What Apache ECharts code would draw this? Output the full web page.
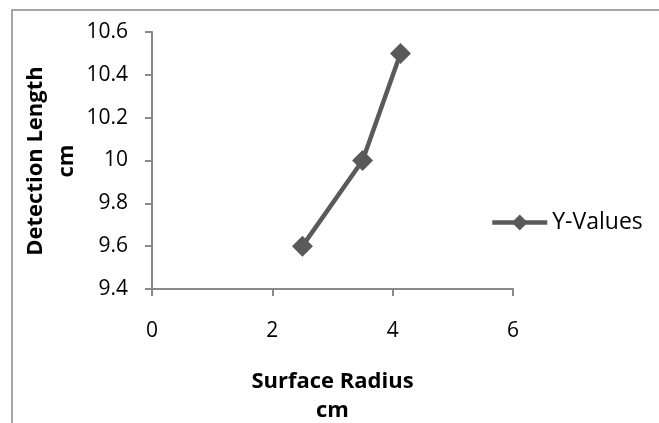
<!DOCTYPE html>
<html>
<head>
<meta charset="utf-8">
<script src="https://cdn.jsdelivr.net/npm/echarts@6/dist/echarts.min.js"></script>
<style>
html,body{margin:0;padding:0;background:#fff;}
#chart{width:659px;height:423px;}
</style>
</head>
<body>
<div id="chart"></div>
<script>
// Data
var seriesName = 'Y-Values';
var xValues = [2.5, 3.5, 4.13];
var yValues = [9.6, 10.0, 10.5];
var xTitle = 'Surface Radius\ncm';
var yTitle = 'Detection Length\ncm';

var points = xValues.map(function (x, i) { return [x, yValues[i]]; });
var FONT = '"Open Sans", sans-serif';
var axisGray = '#898989';
var lineGray = '#5a5a5a';

var chart = echarts.init(document.getElementById('chart'), null, { renderer: 'canvas' });
chart.setOption({
  backgroundColor: '#fff',
  animation: false,
  graphic: [{
    type: 'rect',
    shape: { x: 12, y: 10, width: 700, height: 500 },
    style: { fill: 'none', stroke: axisGray, lineWidth: 1.5 },
    silent: true, z: -1
  }, {
    type: 'text',
    x: 51, y: 161,
    rotation: Math.PI / 2,
    style: {
      text: yTitle,
      fontFamily: FONT, fontSize: 22, fontWeight: 'bold', fill: '#000',
      lineHeight: 31, align: 'center', verticalAlign: 'middle'
    },
    silent: true
  }],
  grid: { left: 152, top: 32, width: 361, height: 257, outerBoundsMode: 'none', containLabel: false },
  legend: {
    left: 490, top: 211, padding: 0,
    itemWidth: 55, itemHeight: 20, itemGap: 5,
    data: [seriesName],
    lineStyle: { width: 4.5 },
    textStyle: { fontFamily: FONT, fontSize: 23, color: '#000', lineHeight: 20 }
  },
  xAxis: {
    type: 'value', min: 0, max: 6, interval: 2,
    name: xTitle, nameLocation: 'middle', nameGap: 78,
    nameTextStyle: { fontFamily: FONT, fontSize: 22, fontWeight: 'bold', color: '#000', lineHeight: 29 },
    axisLine: { show: true, lineStyle: { color: axisGray, width: 2 } },
    axisTick: { show: true, length: 7, lineStyle: { color: axisGray, width: 2 } },
    axisLabel: { margin: 32, fontFamily: FONT, fontSize: 21, color: '#000' },
    splitLine: { show: false }
  },
  yAxis: {
    type: 'value', min: 9.4, max: 10.6, interval: 0.2,
    axisLine: { show: true, lineStyle: { color: axisGray, width: 2 } },
    axisTick: { show: true, length: 7, lineStyle: { color: axisGray, width: 2 } },
    axisLabel: { margin: 24, fontFamily: FONT, fontSize: 21, color: '#000' },
    splitLine: { show: false }
  },
  series: [{
    name: seriesName,
    type: 'line',
    data: points,
    symbol: 'diamond',
    symbolSize: 21,
    lineStyle: { color: lineGray, width: 4.5 },
    itemStyle: { color: lineGray },
    z: 3
  }]
});
</script>
</body>
</html>
